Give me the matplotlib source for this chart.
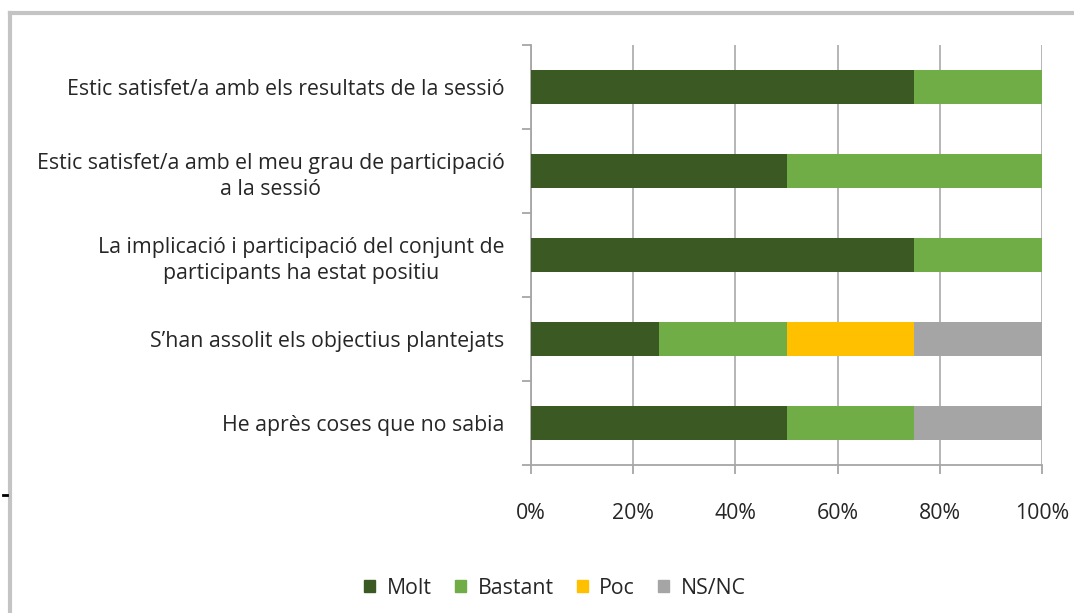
import matplotlib
matplotlib.use("Agg")
import matplotlib.pyplot as plt
from matplotlib.lines import Line2D
from matplotlib.ticker import FixedLocator, PercentFormatter
import numpy as np

categories = [
    "Estic satisfet/a amb els resultats de la sessió",
    "Estic satisfet/a amb el meu grau de participació\na la sessió",
    "La implicació i participació del conjunt de\nparticipants ha estat positiu",
    "S\u2019han assolit els objectius plantejats",
    "He après coses que no sabia",
]
series_names = ["Molt", "Bastant", "Poc", "NS/NC"]
molt = [75, 50, 75, 25, 50]
bastant = [25, 50, 25, 25, 25]
poc = [0, 0, 0, 25, 0]
nsnc = [0, 0, 0, 25, 25]
colors = ["#3B5A23", "#70AD47", "#FFC000", "#A5A5A5"]
xticks = [0, 20, 40, 60, 80, 100]

plt.rcParams['font.family'] = ['Open Sans', 'DejaVu Sans']
FS = 15.3
fig = plt.figure(figsize=(10.74, 6.13), dpi=100)
ax = fig.add_axes([531/1074, 1-465/613, (1042-531)/1074, (465-45)/613])

y = np.arange(len(categories))
left = np.zeros(len(categories))
for name, vals, c in zip(series_names, [molt, bastant, poc, nsnc], colors):
    vals = np.array(vals, dtype=float)
    ax.barh(y, vals, left=left, height=0.4, color=c, label=name, zorder=3)
    left += vals

ax.set_ylim(len(categories)-0.5, -0.5)
ax.set_xlim(0, 100)
ax.set_yticks(y)
ax.set_yticklabels(categories, fontsize=FS, color="#262626")
for lab in ax.get_yticklabels():
    lab.set_multialignment('center')
    lab.set_linespacing(1.35)
ax.yaxis.set_minor_locator(FixedLocator(np.arange(-0.5, len(categories), 1)))
ax.tick_params(axis='y', which='major', length=0, pad=19)
ax.tick_params(axis='y', which='minor', length=6.5, width=1.3, color="#A6A6A6")
ax.set_xticks(xticks)
ax.xaxis.set_major_formatter(PercentFormatter(decimals=0))
ax.tick_params(axis='x', which='major', length=6.5, width=1.3, color="#A6A6A6",
               labelsize=FS, labelcolor="#262626", pad=21)
ax.grid(axis='x', color="#B0B0B0", linewidth=1.3, zorder=0)
for s in ['top', 'right']:
    ax.spines[s].set_visible(False)
for s in ['left', 'bottom']:
    ax.spines[s].set_color("#A6A6A6")
    ax.spines[s].set_linewidth(1.3)

handles = [plt.Rectangle((0, 0), 1, 1, color=c) for c in colors]
fig.legend(handles, series_names, loc='center', bbox_to_anchor=(555/1074, 1-588/613),
           ncol=4, frameon=False, fontsize=FS, handlelength=0.5, handleheight=0.5,
           handletextpad=0.55, columnspacing=1.1, labelcolor="#262626")

# figure border (top and left)
fig.add_artist(Line2D([10/1074, 1.0], [1-13/613, 1-13/613], color="#C4C4C4", linewidth=3,
                      transform=fig.transFigure))
fig.add_artist(Line2D([10/1074, 10/1074], [0, 1-13/613], color="#C4C4C4", linewidth=3,
                      transform=fig.transFigure))
# small black mark at left edge
fig.add_artist(Line2D([3/1074, 7/1074], [1-495/613, 1-495/613], color="black", linewidth=2,
                      transform=fig.transFigure))

fig.savefig("out.png", dpi=100)
